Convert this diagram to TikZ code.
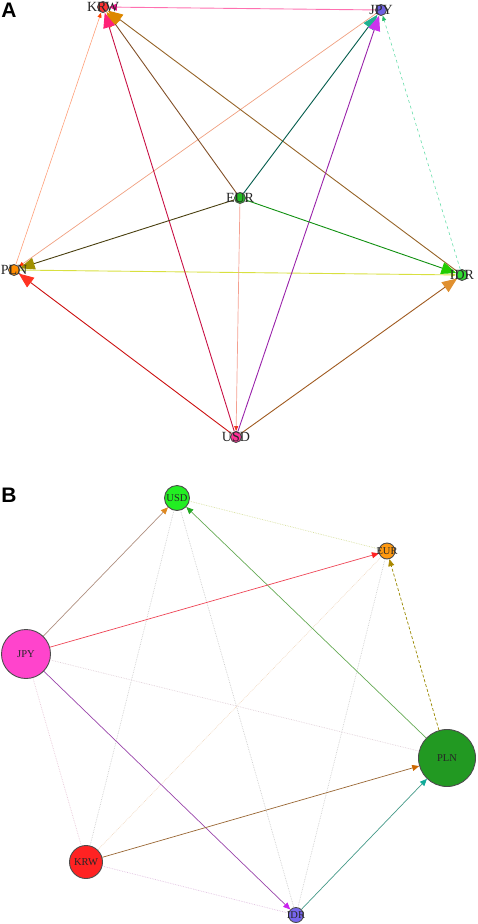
\documentclass[tikz,border=0pt]{standalone}
\usepackage{fontspec}
\setmainfont{Liberation Serif}
\setsansfont{Liberation Sans}
\usetikzlibrary{arrows.meta}
% node colours
\definecolor{krwred}{HTML}{FF3333}
\definecolor{jpyblue}{HTML}{6E5FE0}
\definecolor{eurgreen}{HTML}{22BB22}
\definecolor{plnorange}{HTML}{FF8C00}
\definecolor{idrgreen}{HTML}{33DD33}
\definecolor{usdpink}{HTML}{FF3399}
\definecolor{busdgreen}{HTML}{22EE22}
\definecolor{beurorange}{HTML}{FF9911}
\definecolor{bjpypink}{HTML}{FF44CC}
\definecolor{bplngreen}{HTML}{229922}
\definecolor{bkrwred}{HTML}{FF2222}
\definecolor{bidrblue}{HTML}{7766EE}
% edge colours, panel A
\definecolor{yelline}{HTML}{D8E040}
\definecolor{yeltip}{HTML}{BED228}
\definecolor{pinkline}{HTML}{FF70B0}
\definecolor{pinktip}{HTML}{F0148C}
\definecolor{salmonline}{HTML}{FFA07A}
\definecolor{salmontip}{HTML}{FF4500}
\definecolor{peachline}{HTML}{F0A080}
\definecolor{peachtip}{HTML}{FF3300}
\definecolor{brownline}{HTML}{966428}
\definecolor{darkbrownline}{HTML}{825028}
\definecolor{goldtip}{HTML}{DD8800}
\definecolor{crimsonline}{HTML}{C81144}
\definecolor{crimsontip}{HTML}{FF2277}
\definecolor{tealline}{HTML}{005A4A}
\definecolor{tealtip}{HTML}{20B090}
\definecolor{purpleline}{HTML}{9922AA}
\definecolor{purpletip}{HTML}{CC33EE}
\definecolor{aqualine}{HTML}{66DDAA}
\definecolor{aquatip}{HTML}{22BB66}
\definecolor{oliveline}{HTML}{4A4010}
\definecolor{olivetip}{HTML}{A09000}
\definecolor{roseline}{HTML}{F4A090}
\definecolor{rosetip}{HTML}{EE3322}
\definecolor{greenline}{HTML}{109010}
\definecolor{greentip}{HTML}{22CC00}
\definecolor{redline}{HTML}{CC1111}
\definecolor{redtip}{HTML}{FF3322}
\definecolor{rustline}{HTML}{A05A20}
\definecolor{rusttip}{HTML}{E09030}
% edge colours, panel B
\definecolor{fyellow}{HTML}{D8E0A0}
\definecolor{fbeige}{HTML}{F0D8C0}
\definecolor{fmauve}{HTML}{E0D0D8}
\definecolor{fpink}{HTML}{E8C8D8}
\definecolor{flilac}{HTML}{E0C0E0}
\definecolor{tanline}{HTML}{B09080}
\definecolor{tantip}{HTML}{DD8822}
\definecolor{leafline}{HTML}{66AA55}
\definecolor{leaftip}{HTML}{22AA22}
\definecolor{scarletline}{HTML}{EE4455}
\definecolor{scarlettip}{HTML}{FF2222}
\definecolor{mustardline}{HTML}{998800}
\definecolor{mustardtip}{HTML}{AA8800}
\definecolor{violetline}{HTML}{9944AA}
\definecolor{violettip}{HTML}{CC22EE}
\definecolor{cocoaline}{HTML}{996633}
\definecolor{cocoatip}{HTML}{CC6600}
\definecolor{seaHline}{HTML}{449988}
\definecolor{seaHtip}{HTML}{11AA99}
\tikzset{
  anode/.style={circle,draw=black!70,inner sep=0pt,minimum size=11pt},
  bnode/.style={circle,draw=black!70,inner sep=0pt},
  alabel/.style={font=\fontsize{14}{14}\selectfont,text=black!85},
  blabel/.style={font=\fontsize{10.5}{10.5}\selectfont,text=black!85},
  panel/.style={font=\sffamily\bfseries\fontsize{21}{21}\selectfont},
  bigtip/.style={-{Triangle[length=15pt,width=12pt,color=#1]}},
  midtip/.style={-{Triangle[length=8pt,width=7pt,color=#1]}},
  smalltip/.style={-{Triangle[length=5pt,width=4pt,color=#1]}},
  btip/.style={-{Triangle[length=7pt,width=6pt,color=#1]}},
  faint/.style={densely dotted,line width=0.7pt},
  bedge/.style={line width=0.7pt}
}
\begin{document}
\begin{tikzpicture}[x=1pt,y=-1pt,line width=0.9pt]
    \useasboundingbox (0,0) rectangle (477,924);
    % panel A
    \node[panel] (tagA) at (9,10) {A};
    \node[anode,fill=krwred] (krw) at (103,7) {};% KRW
    \node[anode,fill=jpyblue] (jpy) at (381,10) {};% JPY
    \node[anode,fill=eurgreen] (eur) at (240,198) {};% EUR
    \node[anode,fill=plnorange] (pln) at (14,270) {};% PLN
    \node[anode,fill=idrgreen] (idr) at (462,275) {};% IDR
    \node[anode,fill=usdpink] (usd) at (236,437) {};% USD
    \draw[yelline,smalltip=yeltip] (pln) -- (idr);% yellow edge
    \draw[pinkline,midtip=pinktip] (jpy) -- (krw);
    \draw[line width=0.6pt,salmonline,smalltip=salmontip] (pln) -- (krw);
    \draw[line width=0.7pt,peachline,smalltip=peachtip] (jpy) -- (pln);
    \draw[brownline,bigtip=goldtip] (idr) -- (krw);
    \draw[darkbrownline,bigtip=goldtip] (eur) -- (krw);
    \draw[crimsonline,bigtip=crimsontip] (usd) -- (krw);
    \draw[tealline,bigtip=tealtip] (eur) -- (jpy);
    \draw[purpleline,bigtip=purpletip] (usd) -- (jpy);
    \draw[line width=0.6pt,dashed,aqualine,smalltip=aquatip] (idr) -- (jpy);
    \draw[oliveline,bigtip=olivetip] (eur) -- (pln);
    \draw[line width=0.7pt,roseline,smalltip=rosetip] (eur) -- (usd);
    \draw[greenline,bigtip=greentip] (eur) -- (idr);
    \draw[redline,bigtip=redtip] (usd) -- (pln);
    \draw[rustline,bigtip=rusttip] (usd) -- (idr);
    \node[alabel] (krwname) at (krw) {KRW};% label the node
    \node[alabel] (jpyname) at (jpy) {JPY};% label the node
    \node[alabel] (eurname) at (eur) {EUR};% label the node
    \node[alabel] (plnname) at (pln) {PLN};% label the node
    \node[alabel] (idrname) at (idr) {IDR};% label the node
    \node[alabel] (usdname) at (usd) {USD};% label the node
    % panel B
    \node[panel] (tagB) at (9,495) {B};
    \node[bnode,minimum size=25pt,fill=busdgreen] (busd) at (177,498) {};
    \node[bnode,minimum size=16pt,fill=beurorange] (beur) at (387,551) {};
    \node[bnode,minimum size=49pt,fill=bjpypink] (bjpy) at (26,654) {};
    \node[bnode,minimum size=57pt,fill=bplngreen] (bpln) at (447,758) {};
    \node[bnode,minimum size=33pt,fill=bkrwred] (bkrw) at (86,862) {};
    \node[bnode,minimum size=15pt,fill=bidrblue] (bidr) at (296,915) {};
    % faint edges
    \draw[faint,fyellow] (busd) -- (beur);
    \draw[faint,black!20] (busd) -- (bkrw);
    \draw[faint,black!20] (busd) -- (bidr);
    \draw[faint,fbeige] (beur) -- (bkrw);
    \draw[faint,black!20] (beur) -- (bidr);
    \draw[faint,fmauve] (bjpy) -- (bpln);
    \draw[faint,fpink] (bjpy) -- (bkrw);
    \draw[faint,flilac] (bkrw) -- (bidr);
    % weighted edges
    \draw[bedge,tanline,btip=tantip] (bjpy) -- (busd);
    \draw[bedge,leafline,btip=leaftip] (bpln) -- (busd);
    \draw[bedge,scarletline,btip=scarlettip] (bjpy) -- (beur);
    \draw[bedge,densely dashed,mustardline,btip=mustardtip] (bpln) -- (beur);
    \draw[bedge,violetline,btip=violettip] (bjpy) -- (bidr);
    \draw[bedge,cocoaline,btip=cocoatip] (bkrw) -- (bpln);
    \draw[bedge,seaHline,btip=seaHtip] (bidr) -- (bpln);
    \node[blabel] (busdname) at (busd) {USD};% label the node
    \node[blabel] (beurname) at (beur) {EUR};% label the node
    \node[blabel] (bjpyname) at (bjpy) {JPY};% label the node
    \node[blabel] (bplnname) at (bpln) {PLN};% label the node
    \node[blabel] (bkrwname) at (bkrw) {KRW};% label the node
    \node[blabel] (bidrname) at (bidr) {IDR};% label the node
\end{tikzpicture}
\end{document}
